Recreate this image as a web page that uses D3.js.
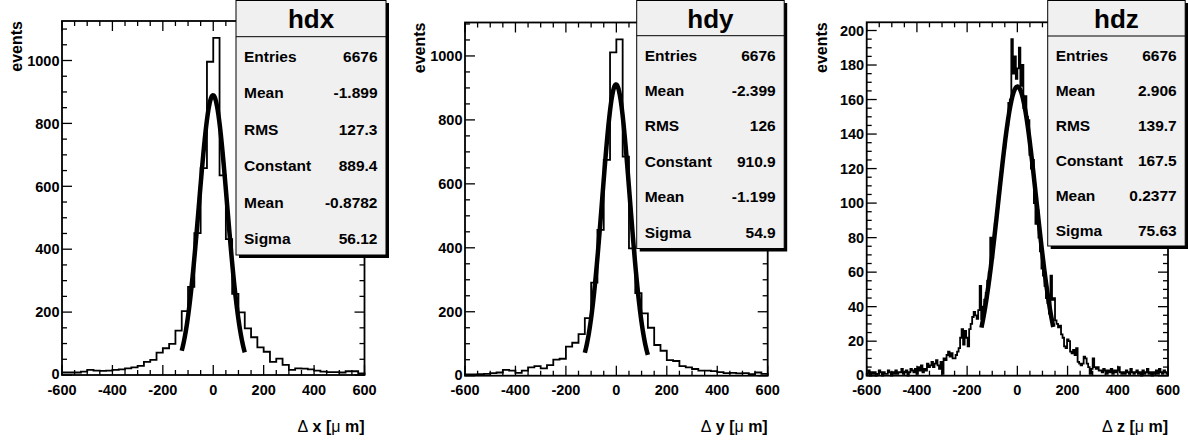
<!DOCTYPE html>
<html lang="en">
<head>
  <meta charset="UTF-8">
  <title>hdx hdy hdz residuals</title>
  <script src="https://cdn.jsdelivr.net/npm/d3@7"></script>
  <style>
    body { margin: 0; background: #fff; }
    svg { display: block; font-family: "Liberation Sans", Arial, Helvetica, sans-serif; font-weight: bold; }
  </style>
</head>
<body>
  <svg id="canvas" width="1188" height="447"></svg>
  <script>
    // x range shared by all three histograms
    const xRange = [-600, 600];

    // bin contents, 48 bins of 25 um
    const hdxCounts = [
      8, 8, 8, 11, 16, 14, 13, 14, 16, 18, 21, 24, 29, 42, 48, 71, 85, 99, 141, 203, 280, 451, 658, 996,
      1072, 635, 432, 258, 199, 148, 120, 88, 74, 42, 52, 32, 16, 21, 20, 18, 14, 11, 9, 9, 8, 12, 12, 5
    ];
    const hdyCounts = [
      4, 4, 5, 6, 8, 10, 18, 16, 9, 16, 26, 30, 23, 33, 50, 53, 91, 103, 130, 180, 291, 456, 675, 1011,
      1052, 685, 398, 258, 195, 150, 96, 78, 49, 46, 30, 26, 21, 16, 16, 14, 11, 8, 9, 7, 8, 5, 10, 6
    ];
    // 200 bins of 6 um
    const hdzCounts = [
      1, 3, 0, 2, 1, 2, 0, 1, 3, 2,
      0, 2, 1, 1, 3, 2, 0, 2, 1, 3,
      1, 2, 2, 4, 1, 2, 3, 0, 2, 4,
      3, 2, 4, 1, 5, 3, 6, 2, 4, 3,
      7, 5, 6, 8, 5, 7, 9, 6, 4, 8,
      1, 10, 9, 12, 14, 11, 13, 10, 10, 12,
      14, 16, 22, 27, 18, 26, 22, 17, 27, 30,
      34, 37, 35, 33, 38, 52, 33, 40, 44, 48,
      55, 60, 80, 68, 78, 88, 95, 104, 110, 118,
      125, 132, 140, 145, 158, 160, 195, 175, 185, 172,
      178, 190, 168, 180, 155, 162, 150, 148, 128, 120,
      125, 100, 88, 96, 80, 72, 62, 58, 52, 45,
      42, 36, 58, 44, 45, 32, 30, 28, 29, 24,
      22, 17, 16, 21, 20, 14, 13, 15, 12, 16,
      8, 7, 6, 7, 11, 10, 7, 5, 1, 4,
      10, 5, 4, 5, 3, 3, 2, 4, 3, 1,
      3, 2, 4, 1, 3, 2, 3, 5, 2, 1,
      2, 1, 3, 2, 1, 4, 2, 1, 2, 3,
      1, 2, 0, 3, 1, 2, 4, 1, 2, 0,
      2, 1, 3, 1, 4, 2, 1, 3, 2, 1
    ];

    const histNames = ["hdx", "hdy", "hdz"];
    const axisVars = ["x", "y", "z"];
    const statLabels = ["Entries", "Mean", "RMS", "Constant", "Mean", "Sigma"];
    const hdxStats = ["6676", "-1.899", "127.3", "889.4", "-0.8782", "56.12"];
    const hdyStats = ["6676", "-2.399", "126", "910.9", "-1.199", "54.9"];
    const hdzStats = ["6676", "2.906", "139.7", "167.5", "0.2377", "75.63"];

    // gaussian fit parameters (from the stat boxes) and fit ranges
    const fitConstant = [889.4, 910.9, 167.5];
    const fitMean = [-0.8782, -1.199, 0.2377];
    const fitSigma = [56.12, 54.9, 75.63];
    const fitRange = [[-125, 125], [-125, 125], [-143, 143]];

    const yMajorStep = [200, 200, 20];

    const counts = [hdxCounts, hdyCounts, hdzCounts];
    const stats = [hdxStats, hdyStats, hdzStats];

    // pad geometry
    const panels = [
      { left: 62, right: 364.5, top: 21, bottom: 375, box: { x: 236, w: 150, h: 255, sep: 36.7 } },
      { left: 465, right: 767.7, top: 22.5, bottom: 375.7, box: { x: 636.7, w: 147.5, h: 248.5, sep: 35.7 } },
      { left: 866.7, right: 1168, top: 22.3, bottom: 375.7, box: { x: 1047.7, w: 137.5, h: 246, sep: 36 } }
    ];

    const svg = d3.select("#canvas");

    panels.forEach((p, k) => {
      const g = svg.append("g");
      const data = counts[k];
      const nb = data.length;
      const bw = (xRange[1] - xRange[0]) / nb;
      const ymax = d3.max(data) * 1.05;

      const x = d3.scaleLinear().domain(xRange).range([p.left, p.right]);
      const y = d3.scaleLinear().domain([0, ymax]).range([p.bottom, p.top]);

      // histogram outline
      const pts = [[xRange[0], 0]];
      data.forEach((v, i) => {
        pts.push([xRange[0] + i * bw, v]);
        pts.push([xRange[0] + (i + 1) * bw, v]);
      });
      pts.push([xRange[1], 0]);
      g.append("path")
        .attr("d", d3.line().x(d => x(d[0])).y(d => y(d[1]))(pts))
        .attr("fill", "none")
        .attr("stroke", "#000")
        .attr("stroke-width", 1.8);

      // gaussian fit
      const fx = d3.range(fitRange[k][0], fitRange[k][1] + 0.01, 1);
      const gauss = t => fitConstant[k] * Math.exp(-0.5 * Math.pow((t - fitMean[k]) / fitSigma[k], 2));
      g.append("path")
        .attr("d", d3.line().x(d => x(d)).y(d => y(gauss(d)))(fx))
        .attr("fill", "none")
        .attr("stroke", "#000")
        .attr("stroke-width", 4.5);

      // frame
      g.append("rect")
        .attr("x", p.left).attr("y", p.top)
        .attr("width", p.right - p.left).attr("height", p.bottom - p.top)
        .attr("fill", "none").attr("stroke", "#000").attr("stroke-width", 1.8);

      // ticks on all four sides
      const tickG = g.append("g").attr("stroke", "#000").attr("stroke-width", 1.3);
      const xMinor = d3.range(xRange[0], xRange[1] + 1, 50);
      xMinor.forEach(v => {
        const len = v % 200 === 0 ? 10 : 5;
        tickG.append("line").attr("x1", x(v)).attr("x2", x(v)).attr("y1", p.bottom).attr("y2", p.bottom - len);
        tickG.append("line").attr("x1", x(v)).attr("x2", x(v)).attr("y1", p.top).attr("y2", p.top + len);
      });
      const ys = yMajorStep[k];
      d3.range(0, ymax, ys / 4).forEach(v => {
        const major = Math.abs(v / ys - Math.round(v / ys)) < 1e-6;
        const len = major ? 10 : 5;
        tickG.append("line").attr("x1", p.left).attr("x2", p.left + len).attr("y1", y(v)).attr("y2", y(v));
        tickG.append("line").attr("x1", p.right).attr("x2", p.right - len).attr("y1", y(v)).attr("y2", y(v));
      });

      // tick labels
      d3.range(xRange[0], xRange[1] + 1, 200).forEach(v => {
        g.append("text").attr("x", x(v)).attr("y", 395)
          .attr("text-anchor", "middle").attr("font-size", 14.5).text(v);
      });
      d3.range(0, ymax, ys).forEach(v => {
        g.append("text").attr("x", p.left - 2.5).attr("y", y(v) - (v === 0 ? 1 : 0))
          .attr("dy", "0.36em")
          .attr("text-anchor", "end").attr("font-size", 14.5).text(v);
      });

      // axis titles
      g.append("text")
        .attr("transform", `translate(${p.left - 40},${p.top}) rotate(-90)`)
        .attr("text-anchor", "end").attr("font-size", 16).text("events");
      const xt = g.append("text").attr("x", p.right).attr("y", 432)
        .attr("text-anchor", "end").attr("font-size", 16);
      xt.append("tspan").attr("font-weight", "normal").text("\u0394");
      xt.append("tspan").text(" " + axisVars[k] + " [");
      xt.append("tspan").attr("font-weight", "normal").text("\u03bc");
      xt.append("tspan").text(" m]");

      // stat box with shadow
      const b = p.box;
      g.append("rect").attr("x", b.x + 3).attr("y", 3).attr("width", b.w).attr("height", b.h).attr("fill", "#000");
      g.append("rect").attr("x", b.x).attr("y", 0.5).attr("width", b.w).attr("height", b.h - 0.5)
        .attr("fill", "#f0f0f0").attr("stroke", "#000").attr("stroke-width", 1);
      g.append("line").attr("x1", b.x).attr("x2", b.x + b.w).attr("y1", b.sep).attr("y2", b.sep)
        .attr("stroke", "#000").attr("stroke-width", 1);
      g.append("text").attr("x", b.x + b.w / 2).attr("y", 28)
        .attr("text-anchor", "middle").attr("font-size", 26).text(histNames[k]);
      const rowH = (b.h - b.sep) / statLabels.length;
      statLabels.forEach((lab, i) => {
        const cy = b.sep + (i + 0.5) * rowH + 1.5;
        g.append("text").attr("x", b.x + 8).attr("y", cy).attr("dy", "0.36em")
          .attr("font-size", 15.5).text(lab);
        g.append("text").attr("x", b.x + b.w - 8.5).attr("y", cy).attr("dy", "0.36em")
          .attr("text-anchor", "end").attr("font-size", 15.5).text(stats[k][i]);
      });
    });
  </script>
</body>
</html>
